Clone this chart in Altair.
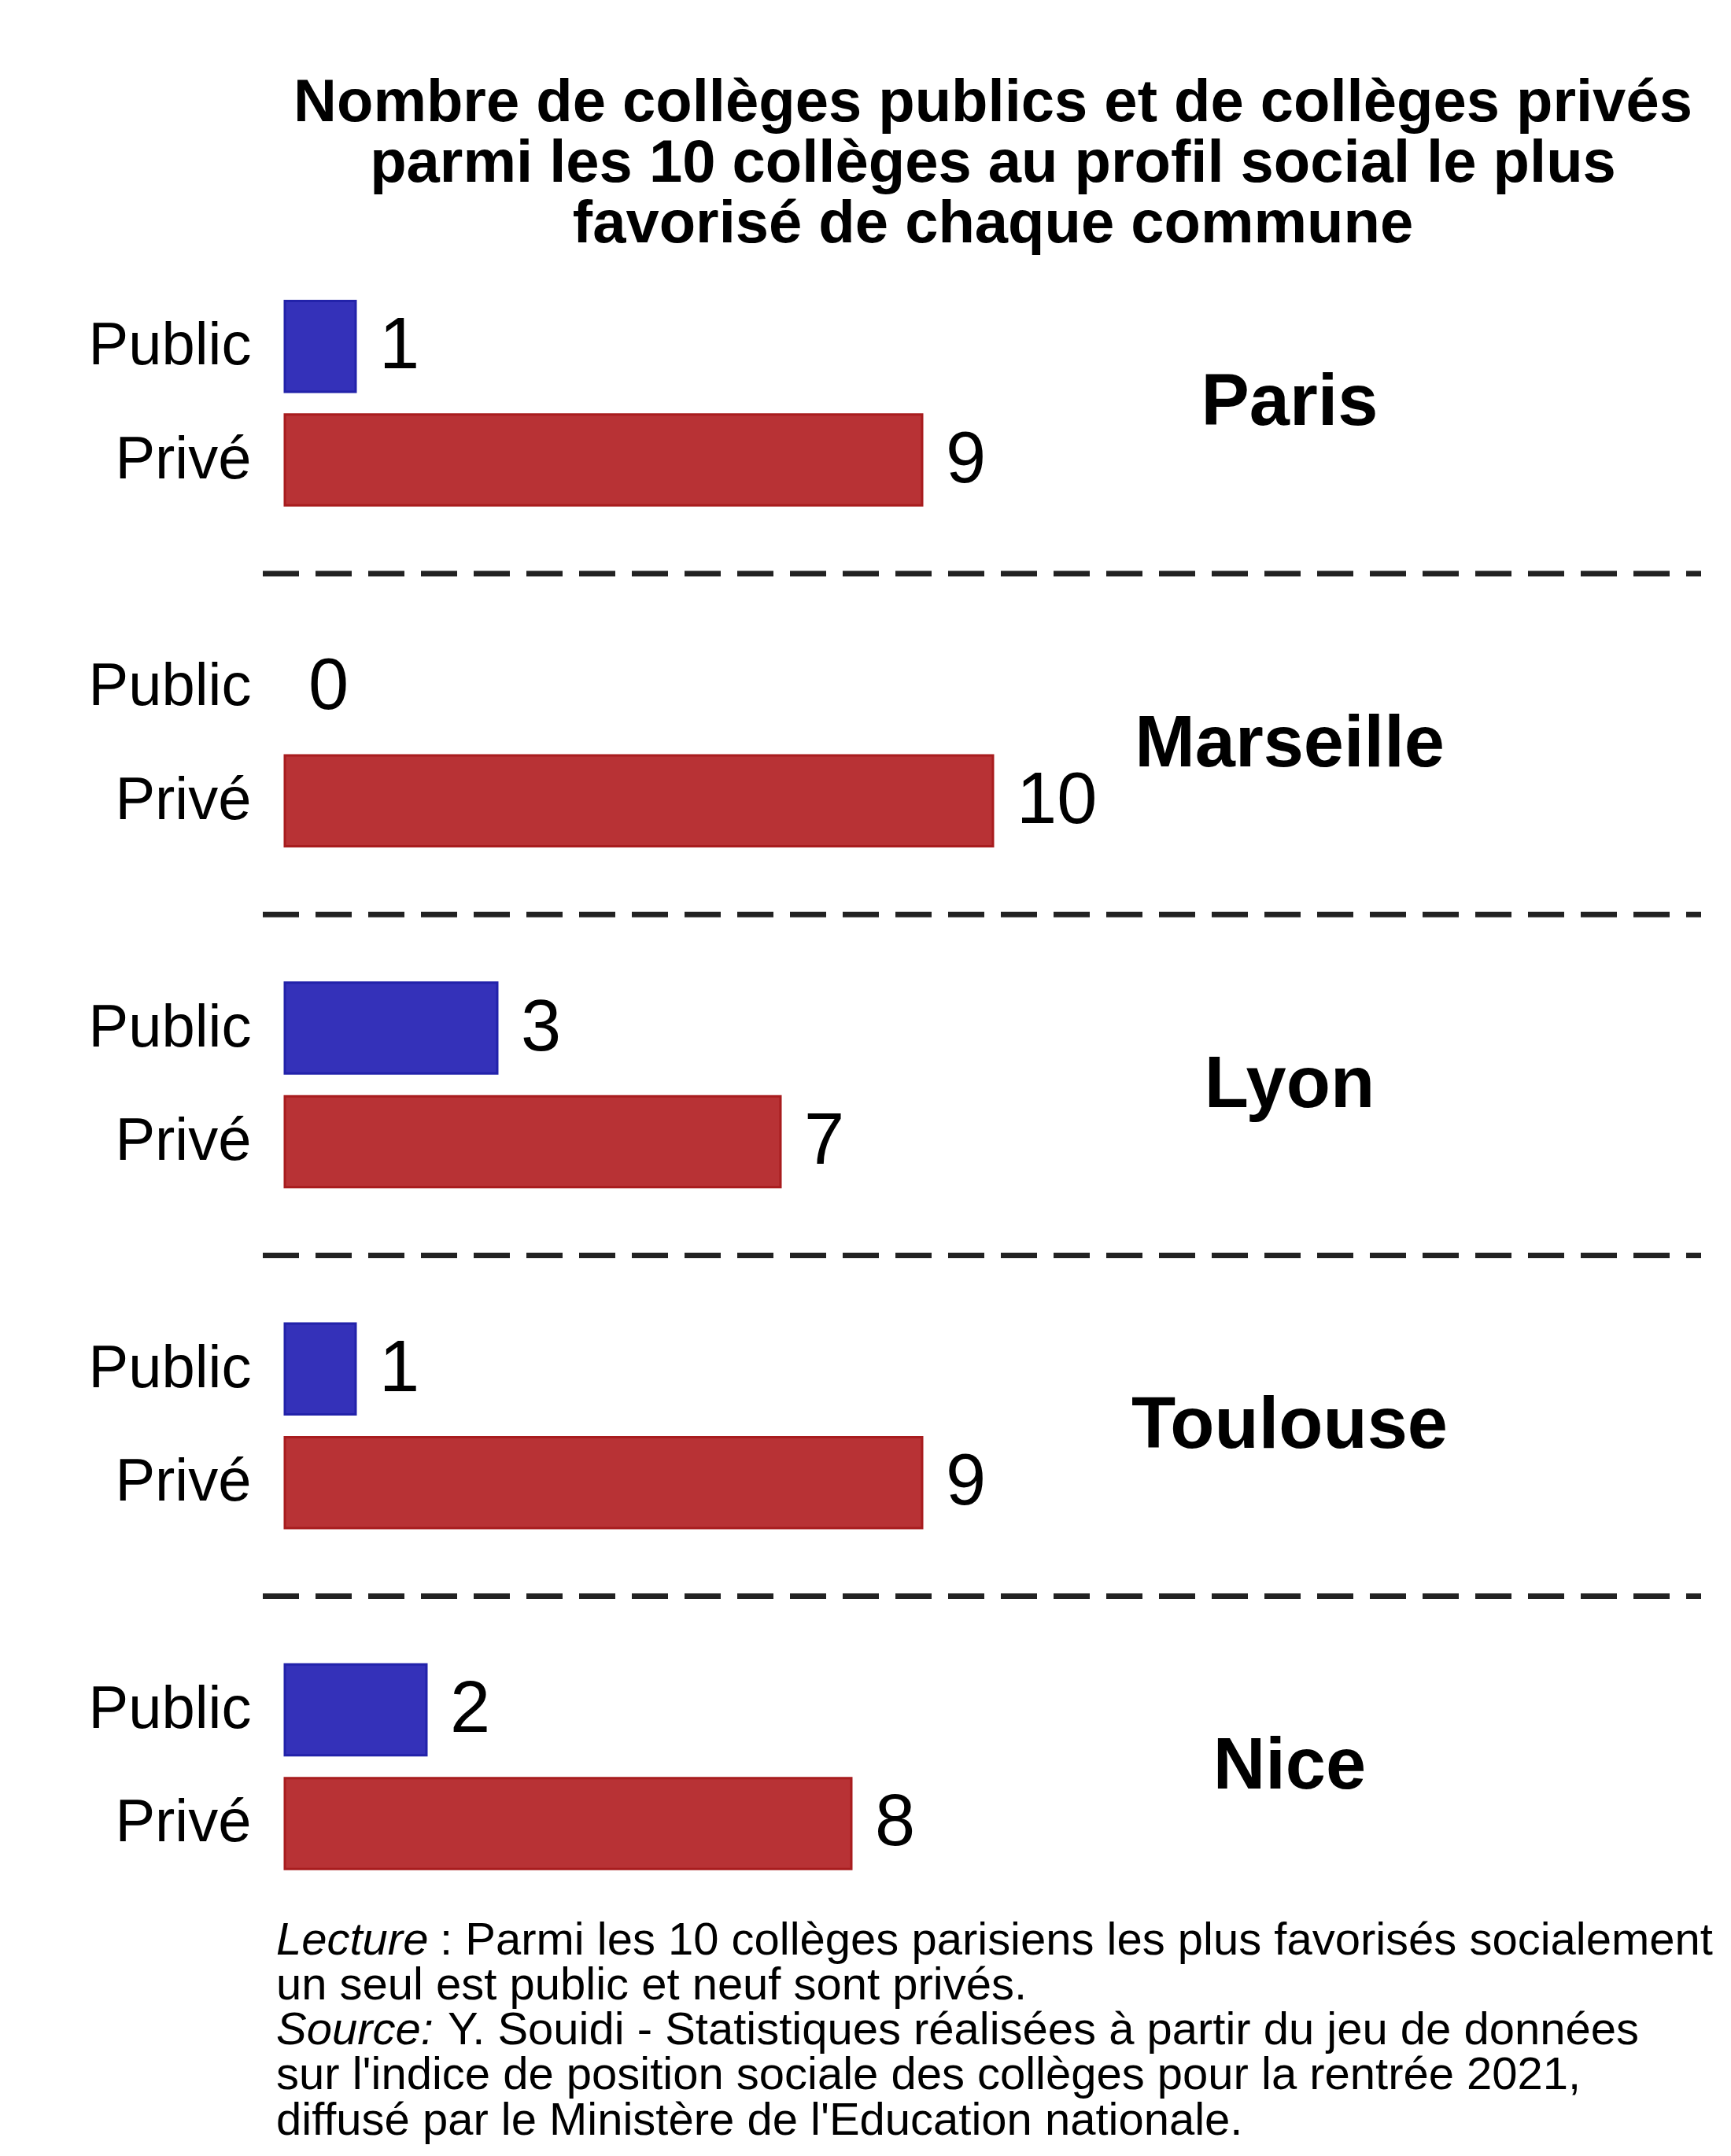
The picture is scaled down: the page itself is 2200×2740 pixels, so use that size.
import altair as alt
import pandas as pd

# ---------------- data ----------------
cities = ["Paris", "Marseille", "Lyon", "Toulouse", "Nice"]
public_counts = [1, 0, 3, 1, 2]
prive_counts = [9, 10, 7, 9, 8]
types = ["Public", "Privé"]

title_lines = [
    "Nombre de collèges publics et de collèges privés",
    "parmi les 10 collèges au profil social le plus",
    "favorisé de chaque commune",
]
footer_italic = ["Lecture", "", "Source:", "", ""]
footer_normal = [
    ": Parmi les 10 collèges parisiens les plus favorisés socialement",
    "un seul est public et neuf sont privés.",
    "Y. Souidi - Statistiques réalisées à partir du jeu de données",
    "sur l'indice de position sociale des collèges pour la rentrée 2021,",
    "diffusé par le Ministère de l'Education nationale.",
]

# ---------------- tables ----------------
rows = []
for c, pu, pr in zip(cities, public_counts, prive_counts):
    rows.append({"city": c, "type": "Public", "value": pu, "key": f"{c}|Public"})
    rows.append({"city": c, "type": "Privé", "value": pr, "key": f"{c}|Privé"})
df = pd.DataFrame(rows)

keys = []
for i, c in enumerate(cities):
    keys += [f"{c}|Public", f"{c}|Privé"]
    if i < len(cities) - 1:
        keys.append(f"{c}|sep")
seps = pd.DataFrame({"key": [f"{c}|sep" for c in cities[:-1]]})
city_df = pd.DataFrame({"city": cities, "key": [f"{c}|Public" for c in cities]})

FONT = "Liberation Sans"
W = 1800
STEP = 144.4
H = STEP * len(keys)

yscale = alt.Scale(domain=keys, paddingInner=0.2, paddingOuter=0.1)
xscale = alt.Scale(domain=[0, 20])
color_scale = alt.Scale(domain=types, range=["#3431B9", "#B83235"])
stroke_scale = alt.Scale(domain=types, range=["#2222AA", "#A81C1E"])

ycat = alt.Y(
    "key:N",
    scale=yscale,
    axis=alt.Axis(
        title=None,
        ticks=False,
        domain=False,
        grid=False,
        labelFontSize=76,
        labelFont=FONT,
        labelColor="#000000",
        labelPadding=43,
        labelLimit=0,
        labelExpr="split(datum.label, '|')[1] == 'sep' ? '' : split(datum.label, '|')[1]",
    ),
)

base = alt.Chart(df)

bars = base.transform_filter("datum.value > 0").mark_bar(strokeWidth=3).encode(
    y=ycat,
    x=alt.X("value:Q", scale=xscale, axis=None),
    fill=alt.Fill("type:N", scale=color_scale, legend=None),
    stroke=alt.Stroke("type:N", scale=stroke_scale, legend=None),
)

values = base.mark_text(
    align="left", baseline="middle", dx=30, fontSize=92, font=FONT, color="#000000"
).encode(
    y=alt.Y("key:N", scale=yscale),
    x=alt.X("value:Q", scale=xscale),
    text="value:Q",
)

city_labels = alt.Chart(city_df).mark_text(
    align="center", baseline="middle", dy=STEP / 2, fontSize=92,
    fontWeight="bold", font=FONT, color="#000000"
).encode(
    y=alt.Y("key:N", scale=yscale),
    x=alt.value(1277),
    text="city:N",
)

separators = alt.Chart(seps).mark_rule(
    strokeDash=[46, 21], strokeWidth=7, color="#222222"
).encode(
    y=alt.Y("key:N", scale=yscale),
    x=alt.value(-28),
    x2=alt.value(W),
)

layers = [bars, values, city_labels, separators]

footer_df = pd.DataFrame({"italic": footer_italic, "normal": footer_normal,
                          "line": list(range(len(footer_normal)))})
italic_dx = {"Lecture": 208, "Source:": 218}
for i in range(len(footer_normal)):
    yv = H + 77 + 57.3 * i
    sub = footer_df[footer_df["line"] == i]
    if footer_italic[i]:
        layers.append(
            alt.Chart(sub).mark_text(
                align="left", baseline="middle", fontSize=58, font=FONT,
                fontStyle="italic", color="#000000"
            ).encode(x=alt.value(-11), y=alt.value(yv), text="italic:N")
        )
    layers.append(
        alt.Chart(sub).mark_text(
            align="left", baseline="middle", fontSize=58, font=FONT, color="#000000",
            dx=italic_dx.get(footer_italic[i], 0)
        ).encode(x=alt.value(-11), y=alt.value(yv), text="normal:N")
    )

chart = alt.layer(*layers).properties(
    width=W,
    height=H,
    padding={"left": 104, "top": 85, "right": 0, "bottom": 0},
    title=alt.TitleParams(
        text=title_lines,
        fontSize=76,
        fontWeight="bold",
        font=FONT,
        color="#000000",
        anchor="middle",
        frame="group",
        lineHeight=77,
        offset=44,
    ),
).configure(
    background="#ffffff",
    view={"stroke": "transparent", "strokeWidth": 0},
)

chart.save("out.html", embed_options={"renderer": "svg", "actions": False})
